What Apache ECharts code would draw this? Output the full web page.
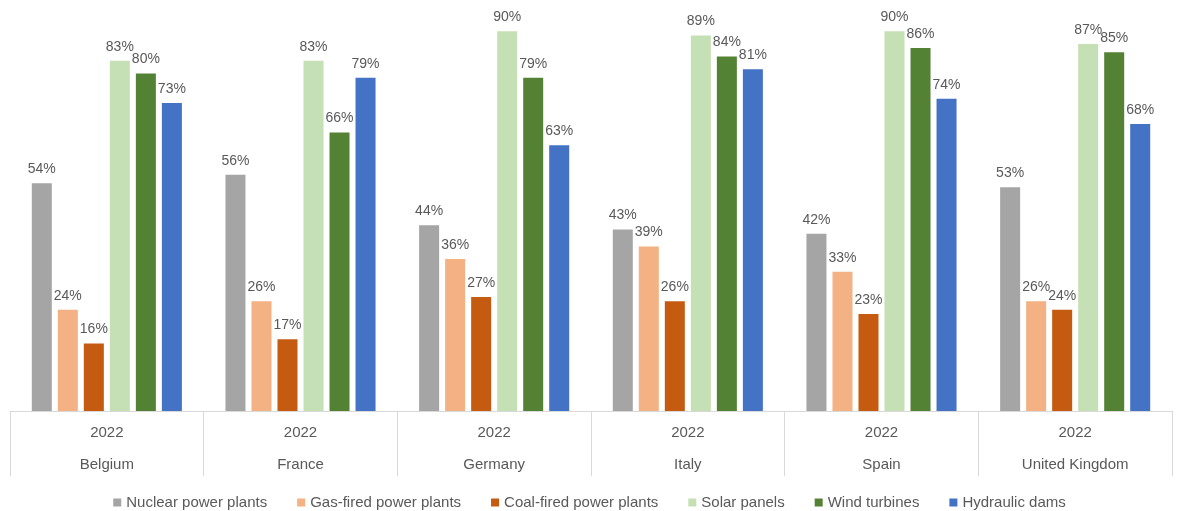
<!DOCTYPE html>
<html>
<head>
<meta charset="utf-8">
<script src="https://cdn.jsdelivr.net/npm/echarts@6/dist/echarts.min.js"></script>
<style>
  html, body { margin: 0; padding: 0; background: #ffffff; }
  #chart { width: 1179px; height: 511px; }
</style>
</head>
<body>
<div id="chart"></div>
<script>
// Survey year and countries (two-level category axis)
const years = ['2022', '2022', '2022', '2022', '2022', '2022'];
const countries = ['Belgium', 'France', 'Germany', 'Italy', 'Spain', 'United Kingdom'];

// Share of respondents in favour, per energy source (%)
const nuclear = [54, 56, 44, 43, 42, 53];
const gasFired = [24, 26, 36, 39, 33, 26];
const coalFired = [16, 17, 27, 26, 23, 24];
const solar = [83, 83, 90, 89, 90, 87];
const wind = [80, 66, 79, 84, 86, 85];
const hydro = [73, 79, 63, 81, 74, 68];

const seriesNames = ['Nuclear power plants', 'Gas-fired power plants', 'Coal-fired power plants',
  'Solar panels', 'Wind turbines', 'Hydraulic dams'];
const seriesData = [nuclear, gasFired, coalFired, solar, wind, hydro];
const seriesColors = ['#A5A5A5', '#F4B183', '#C55A11', '#C5E0B4', '#548235', '#4472C4'];

const FONT = '"Liberation Sans", Arial, sans-serif';
const TEXT = '#595959';

const chart = echarts.init(document.getElementById('chart'));
chart.setOption({
  animation: false,
  backgroundColor: '#ffffff',
  textStyle: { fontFamily: FONT },
  grid: { left: 10, right: 7, top: 0, bottom: 100, containLabel: false },
  legend: {
    top: 490,
    left: 'center',
    itemWidth: 8,
    itemHeight: 8,
    itemGap: 30,
    icon: 'rect',
    textStyle: { fontSize: 15, color: TEXT, fontFamily: FONT },
    data: seriesNames
  },
  xAxis: [
    {
      type: 'category',
      data: years,
      position: 'bottom',
      axisLine: { show: true, lineStyle: { color: '#D9D9D9', width: 1 } },
      axisTick: { show: true, length: 65, alignWithLabel: false, lineStyle: { color: '#D9D9D9' } },
      axisLabel: { margin: 14, fontSize: 15, color: TEXT, fontFamily: FONT }
    },
    {
      type: 'category',
      data: countries,
      position: 'bottom',
      offset: 32,
      axisLine: { show: false },
      axisTick: { show: false },
      axisLabel: { margin: 14, fontSize: 15, color: TEXT, fontFamily: FONT }
    }
  ],
  yAxis: { type: 'value', min: 0, max: 97.4, show: false, splitLine: { show: false } },
  series: seriesNames.map((name, i) => ({
    name: name,
    type: 'bar',
    xAxisIndex: 0,
    data: seriesData[i],
    barGap: '30%',
    barCategoryGap: '22.5%',
    itemStyle: { color: seriesColors[i] },
    label: {
      show: true,
      position: 'top',
      distance: 7,
      formatter: '{c}%',
      fontSize: 14,
      color: TEXT,
      fontFamily: FONT
    }
  }))
});
</script>
</body>
</html>
